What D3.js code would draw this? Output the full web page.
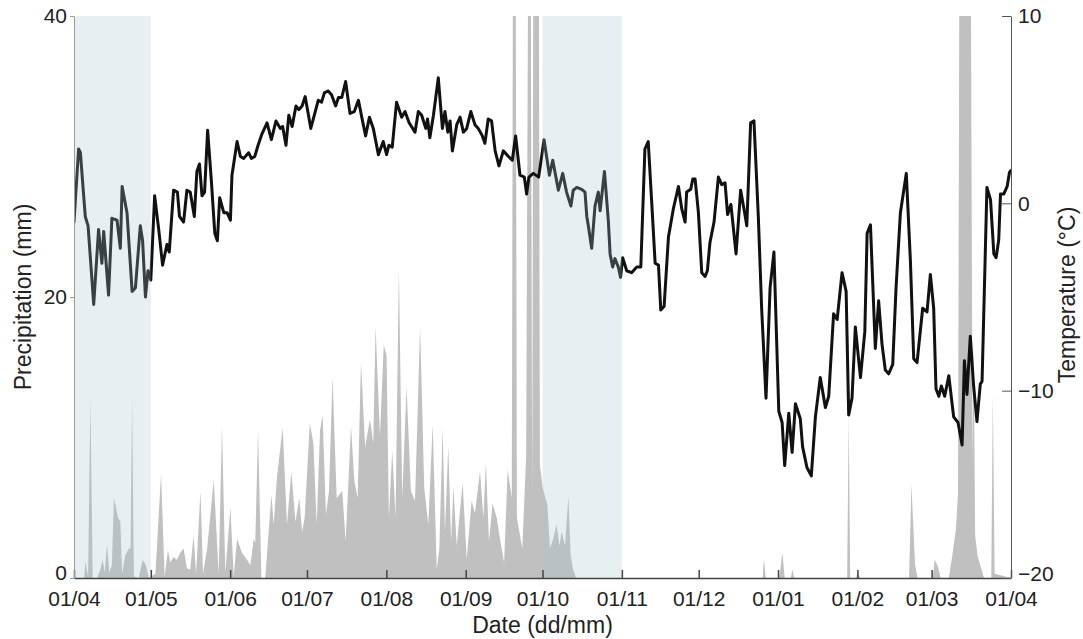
<!DOCTYPE html>
<html><head><meta charset="utf-8">
<script src="https://cdn.jsdelivr.net/npm/d3@7"></script>
<style>
body{margin:0;background:#fff}
text{font-family:"Liberation Sans",Arial,Helvetica,sans-serif}
</style>
</head><body>
<svg id="c" width="1083" height="639"></svg>
<script>
// ---------- data ----------
const startDate = "2011-04-01";
const endDate = "2012-04-01";
const xTickLabels = ["01/04","01/05","01/06","01/07","01/08","01/09","01/10","01/11","01/12","01/01","01/02","01/03","01/04"];
const precipTicks = [0, 20, 40];
const tempTicks = [-20, -10, 0, 10];
const bandStart = ["2011-04-01", "2011-10-01"];
const bandEnd = ["2011-05-01", "2011-11-01"];

// days since 01/04 and daily mean temperature (°C)
const tempDay = [0,1.8,2.5,4.4,5.5,7.7,9.6,10.9,11.6,13.5,14.8,16.8,18.1,18.8,20.7,22.7,24,25.9,26.8,27.9,28.9,30,31.5,33.1,34.6,36.3,37.2,38.9,40.4,41.2,42.8,44.1,45.4,47,48,49,50,51,52.2,53.6,55,56,56.9,58.5,59.8,61.1,61.7,63.7,65,66.3,68.2,69.3,70.6,71.9,73.4,75.4,77.1,78.9,80.6,81.5,82.8,83.9,85.2,86.7,87.8,89.1,90.3,92.5,95.4,96.7,97.8,99.3,100.6,102.2,103.3,104.6,106.1,107.8,109.5,111.1,112.4,113.9,115.4,116.9,118.9,120.8,122.1,123,124.3,126,128,129.3,130.9,133.2,134.5,135.8,137.4,138.1,139,140.4,142.3,143.9,144.9,146,146.9,147.8,149.5,150.8,152.1,153.4,155,156.6,157.9,159.5,160.5,161.8,163.1,164.5,166,167.7,169.7,171.2,172.5,174.2,175.9,176.8,177.7,179.4,181.5,183.6,185.7,187,189.2,190.9,192.4,194.1,195,196.4,198.3,199.6,200.3,200.9,202.2,203.5,204.8,205.5,207.2,208.7,209.4,210.4,211.3,212.6,213.5,214.3,215.9,217.8,219.8,221.4,223,224.3,225.6,227,228.3,229.2,230.5,232.2,234.1,236.1,237.4,238.7,239.3,240.9,241.7,242.6,243.9,245.2,246.5,247.4,248.4,250,251.7,253,254.3,255.3,256.6,258.6,260.4,261.7,262.8,264.3,265.6,267.3,268.6,270.3,271.9,273.4,275.3,276.6,277.6,279.2,280.5,281.8,283.7,284.6,286.3,288,289.6,291.5,293.5,294.8,296.7,298.1,300,301.6,302.6,303.9,305.2,307.2,308.9,309.8,311.1,313,314.3,315.6,316.9,318.2,319.8,321.1,322.8,325.1,326.7,328,329.3,331.5,333.2,334.5,335.8,336.7,337.8,338.8,340.1,341.7,343.6,345.3,346.9,347.8,348.8,350.1,351.4,352.7,354,354.7,356.6,358,359.3,360.2,361.2,361.9,363.2,364.5,365.4,366];
const tempC = [-1.0,2.9,2.7,-0.7,-1.2,-5.4,-1.4,-3.2,-1.5,-4.9,-0.8,-0.9,-2.4,0.9,-0.5,-4.7,-4.5,-1.2,-2.0,-5.0,-3.6,-4.1,0.4,-1.4,-3.3,-2.2,-2.6,0.7,0.6,-0.7,-1.0,0.7,0.6,-0.7,1.7,2.1,0.4,0.6,3.9,1.3,-1.6,-2.0,0.3,-0.5,-0.5,-0.9,1.5,3.3,2.5,2.4,2.7,2.4,2.5,3.1,3.7,4.3,3.4,4.4,4.0,4.1,3.1,4.7,4.1,5.2,5.0,5.2,5.7,4.0,5.5,5.4,5.9,6.0,5.8,5.2,5.65,5.65,6.5,4.8,4.9,5.5,4.6,3.6,4.6,4.0,2.6,3.3,2.6,3.1,3.0,5.4,4.6,4.9,4.3,3.8,4.9,4.7,4.0,4.5,3.5,4.7,6.7,4.0,4.9,3.8,4.4,2.8,4.2,4.6,3.8,4.0,4.9,4.2,4.0,3.6,3.2,4.5,4.4,2.8,2.0,2.8,2.5,2.3,3.6,1.5,1.4,0.5,1.4,1.6,1.4,3.4,1.5,2.3,0.7,1.6,0.6,-0.15,0.7,0.85,0.75,0.6,-0.7,-1.2,-2.4,-0.15,0.6,-0.4,1.7,-0.9,-2.7,-3.4,-2.95,-3.4,-3.95,-2.9,-3.6,-3.7,-3.4,-3.4,2.9,3.3,0.2,-3.2,-3.3,-5.7,-5.5,-1.8,-0.3,0.9,-0.3,-1.0,0.6,0.75,1.3,1.3,-0.5,-3.7,-3.9,-3.6,-2.1,-1.0,1.4,1.0,1.1,-0.6,-0.06,-2.7,0.7,-0.3,-1.2,4.3,4.4,-0.7,-5.6,-10.4,-4.5,-2.6,-11.1,-11.7,-14.0,-11.2,-13.3,-10.7,-11.5,-13.0,-14.1,-14.55,-11.4,-9.3,-10.9,-10.3,-5.9,-6.2,-3.7,-4.7,-11.3,-10.4,-6.6,-9.3,-6.85,-1.6,-1.15,-7.75,-5.2,-7.5,-8.9,-9.1,-8.6,-4.5,-0.5,1.6,-3.05,-8.3,-8.5,-5.6,-5.8,-3.8,-5.6,-9.9,-10.3,-9.75,-10.3,-9.2,-11.4,-11.7,-12.9,-8.4,-10.2,-7.1,-9.75,-11.65,-9.65,-9.5,0.85,0.2,-2.7,-2.9,-1.95,0.5,0.5,0.9,1.65,1.75];

// days since 01/04 and daily precipitation (mm)
const precipDay = [0,4,4.4,5.5,6.4,7.3,9,10.3,11.2,12,12.9,13.8,14.8,15.6,17.2,18.1,18.8,20,21.4,22.1,22.7,23.4,25.3,26.8,28.1,29.2,31.8,34,35.4,36.7,37.6,38.9,40.2,41.5,42.8,44.1,45.4,46.7,47.7,49.4,50.4,52,54.6,56.5,57.8,59.1,61.1,62.4,63.7,65.6,67.6,68.9,70.2,70.8,71.9,73.2,74.7,77.1,78,79.3,81.5,83.2,84.9,86.5,88,89.1,90.1,92.1,93.5,94.8,96.1,97.1,98.4,99.6,101,102.6,104.8,106.1,108.2,109.5,110.8,112.1,113.7,115.6,116.9,117.8,119.5,121,122.1,123,124.3,125.6,126.9,128.2,129.9,131.6,133.2,135.2,136.8,138.4,140.1,141.7,142.7,144,144.9,146.2,147.3,148.2,149.5,151.8,153.4,155.3,156.6,158.6,159.9,160.9,162.1,163.5,165.1,166.4,168,169.4,171,172,173,175.1,176.6,178,179,180,181,182,183.1,184.9,185.9,187.2,188.5,189.6,190.5,191.8,193.1,194,195,196.1,269,269.5,270.2,275.5,276.7,277.6,280,280.6,281.3,302,302.6,303.2,305.5,306.2,307,326.2,327.1,328.5,329.5,335.4,336.2,337.5,338.5,341.7,343,344.5,345.3,346,347,348,349,350,351,351.4,352,353,354.5,355.5,358.3,358.9,359.6,362,366];
const precipMm = [0,0,1.2,0.1,12.8,0,0,0.6,1.3,0.4,2.4,0.4,0.9,5.7,4.3,4.0,0.3,1.6,2.1,2.1,12.8,0.1,0,1.3,0.9,0,0.3,7.4,0.1,2.0,1.1,1.5,1.3,1.8,2.1,0.7,0.6,3.0,0.3,6.2,0.3,2.1,7.0,0.3,10.8,0.4,5.0,0.1,2.8,1.8,1.3,0.9,2.8,2.5,10.5,0,0,5.9,3.8,7.2,10.7,3.8,7.6,4.0,5.7,3.3,4.3,11.0,9.6,3.8,10.5,11.6,4.5,6.2,14.3,5.7,6.2,2.6,10.8,6.9,5.7,15.4,9.3,11.3,9.6,17.9,10.1,16.6,15.8,4.3,9.1,4.3,22.1,5.7,13.6,6.2,5.5,17.9,6.4,3.8,10.9,0.6,2.1,10.7,3.3,9.4,2.6,6.5,2.3,6.8,1.3,5.5,4.6,7.6,4.3,8.2,2.6,5.3,4.3,2.8,1.1,7.7,5.7,90,4.3,2.1,8.6,70,6,95,90,8,6.4,5.2,2.1,2.8,3.8,2.3,3.3,2.3,5.8,1.6,0.6,0,0,1.4,0,0,1.8,0,0,0.6,0,0,11.5,0,0,0.5,0,0,6.7,1.0,0,0,1.3,0.8,0,0,1.5,3.5,6,55,75,80,75,60,8,17,3,1.5,0.6,0,0,13.1,0.3,0.2,0];

// ---------- chart ----------
const W = 1083, H = 639;
const mLeft = 74, mRight = 1011, mTop = 16, mBottom = 578;
const svg = d3.select("#c");
svg.append("rect").attr("width", W).attr("height", H).attr("fill", "#fff");

const t0 = new Date(startDate + "T00:00:00Z");
const t1 = new Date(endDate + "T00:00:00Z");
const dayDate = d => new Date(t0.getTime() + d * 864e5);

const x = d3.scaleUtc().domain([t0, t1]).range([mLeft, mRight]);
const yP = d3.scaleLinear().domain([0, 40]).range([mBottom, mTop]);
const yT = d3.scaleLinear().domain([-20, 10]).range([mBottom, mTop]);

svg.append("clipPath").attr("id", "plotclip")
  .append("rect").attr("x", mLeft).attr("y", mTop).attr("width", mRight - mLeft).attr("height", mBottom - mTop);

const plot = svg.append("g").attr("clip-path", "url(#plotclip)");

const precip = precipDay.map((d, i) => ({ t: dayDate(d), v: precipMm[i] }));
const temp = tempDay.map((d, i) => ({ t: dayDate(d), v: tempC[i] }));

plot.append("path").datum(precip)
  .attr("fill", "#c0c0c0")
  .attr("d", d3.area().x(d => x(d.t)).y0(yP(0)).y1(d => yP(d.v)));

plot.append("path").datum(temp)
  .attr("fill", "none").attr("stroke", "#111").attr("stroke-width", 3)
  .attr("stroke-linejoin", "round").attr("stroke-linecap", "round")
  .attr("d", d3.line().x(d => x(d.t)).y(d => yT(d.v)));

// shaded periods
bandStart.forEach((s, i) => {
  const a = x(new Date(s + "T00:00:00Z")), b = x(new Date(bandEnd[i] + "T00:00:00Z"));
  svg.append("rect").attr("x", a).attr("y", mTop).attr("width", b - a).attr("height", mBottom - mTop)
    .attr("fill", "rgb(170,196,204)").attr("fill-opacity", 0.265);
});

const fs = 21, fsTitle = 23, tc = "#222";
function styleAxis(g, col, w) {
  g.selectAll(".domain").attr("stroke", col).attr("stroke-width", w);
  g.selectAll(".tick line").attr("stroke", col).attr("stroke-width", w);
  g.selectAll(".tick text").attr("font-size", fs).attr("fill", tc)
    .attr("font-family", '"Liberation Sans",Arial,sans-serif');
}

const tickDates = d3.utcMonth.range(t0, d3.utcDay.offset(t1, 1));
const gx = svg.append("g").attr("transform", `translate(0,${mBottom})`)
  .call(d3.axisBottom(x).tickValues(tickDates).tickFormat((d, i) => xTickLabels[i])
    .tickSizeInner(-8).tickSizeOuter(0).tickPadding(13));
styleAxis(gx, "#444", 1.5);

const gl = svg.append("g").attr("transform", `translate(${mLeft},0)`)
  .call(d3.axisLeft(yP).tickValues(precipTicks).tickSizeInner(4).tickSizeOuter(0).tickPadding(3));
styleAxis(gl, "#9a9a9a", 1);
gl.selectAll(".tick text").filter(d => d === 0).attr("y", -5);

const gr = svg.append("g").attr("transform", `translate(${mRight},0)`)
  .call(d3.axisRight(yT).tickValues(tempTicks).tickSizeInner(-9).tickSizeOuter(0).tickPadding(7));
styleAxis(gr, "#555", 1);
gr.selectAll(".tick text").filter(d => d === -20).attr("y", -4);

// titles
svg.append("text").attr("transform", `translate(31,${(mTop + mBottom) / 2}) rotate(-90)`)
  .attr("text-anchor", "middle").attr("font-size", fsTitle).attr("fill", tc).text("Precipitation (mm)");
svg.append("text").attr("transform", `translate(1075,${(mTop + mBottom) / 2 - 2}) rotate(-90)`)
  .attr("text-anchor", "middle").attr("font-size", fsTitle).attr("fill", tc).text("Temperature (°C)");
svg.append("text").attr("x", (mLeft + mRight) / 2).attr("y", 633)
  .attr("text-anchor", "middle").attr("font-size", fsTitle).attr("fill", tc).text("Date (dd/mm)");
</script>
</body></html>
